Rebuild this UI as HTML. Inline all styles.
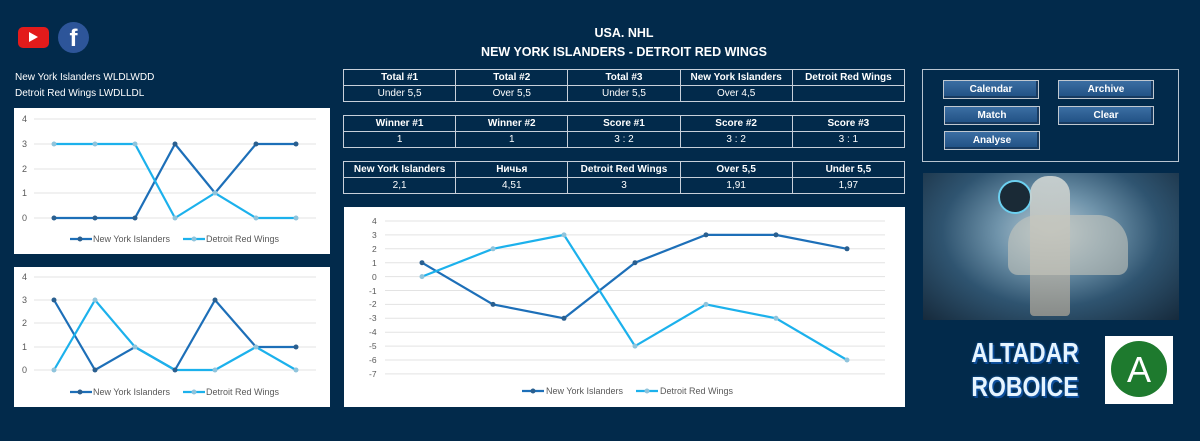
<!DOCTYPE html>
<html><head><meta charset="utf-8"><style>
html,body{margin:0;padding:0}
body{width:1200px;height:441px;background:#022a4b;position:relative;overflow:hidden;font-family:"Liberation Sans",sans-serif;color:#fff}
.a{position:absolute}
table{position:absolute;border-collapse:collapse;left:343px;width:562px;font-size:10px;table-layout:fixed}
td{border:1px solid #c8d0da;text-align:center;height:15px;padding:0;color:#fff}
tr:first-child td{font-weight:bold}
.btn{position:absolute;width:94px;height:17px;background:linear-gradient(#3b6ea3,#1f4f82);border:1px solid #c0c8d0;box-shadow:inset -2px -2px 0 #173a60;font-size:10px;font-weight:bold;text-align:center;line-height:18px}
</style></head><body>
<div class="a" style="left:18px;top:27px;width:31px;height:21px;background:#e31b1b;border-radius:5px"></div>
<div class="a" style="left:29px;top:32px;width:0;height:0;border-left:9px solid #fff;border-top:5px solid transparent;border-bottom:5px solid transparent"></div>
<div class="a" style="left:58px;top:22px;width:31px;height:31px;background:#2d5599;border-radius:50%;font-size:24px;font-weight:bold;text-align:center;line-height:34px">f</div>
<div class="a" style="left:15px;top:72px;font-size:10px">New York Islanders WLDLWDD</div>
<div class="a" style="left:15px;top:88px;font-size:10px">Detroit Red Wings LWDLLDL</div>
<div class="a" style="left:343px;top:24px;width:562px;text-align:center;font-size:12.5px;font-weight:bold;line-height:19px">USA. NHL<br>NEW YORK ISLANDERS - DETROIT RED WINGS</div>

<table style="top:69px"><tr><td>Total #1</td><td>Total #2</td><td>Total #3</td><td>New York Islanders</td><td>Detroit Red Wings</td></tr><tr><td>Under 5,5</td><td>Over 5,5</td><td>Under 5,5</td><td>Over 4,5</td><td></td></tr></table>
<table style="top:115px"><tr><td>Winner #1</td><td>Winner #2</td><td>Score #1</td><td>Score #2</td><td>Score #3</td></tr><tr><td>1</td><td>1</td><td>3 : 2</td><td>3 : 2</td><td>3 : 1</td></tr></table>
<table style="top:161px"><tr><td>New York Islanders</td><td>Ничья</td><td>Detroit Red Wings</td><td>Over 5,5</td><td>Under 5,5</td></tr><tr><td>2,1</td><td>4,51</td><td>3</td><td>1,91</td><td>1,97</td></tr></table>

<div class="a" style="left:922px;top:69px;width:255px;height:91px;border:1px solid #b8c4d0"></div>
<div class="btn" style="left:943px;top:80px">Calendar</div>
<div class="btn" style="left:1058px;top:80px">Archive</div>
<div class="btn" style="left:944px;top:106px">Match</div>
<div class="btn" style="left:1058px;top:106px">Clear</div>
<div class="btn" style="left:944px;top:131px">Analyse</div>

<div class="a" style="left:923px;top:173px;width:256px;height:147px;background:radial-gradient(ellipse at 50% 40%,#b9ccd6 0%,#6f93aa 30%,#2f5470 60%,#162a3c 100%)"></div>
<div class="a" style="left:998px;top:180px;width:30px;height:30px;border-radius:50%;background:#1a2a36;border:2px solid #6cd0f0"></div>
<div class="a" style="left:1030px;top:176px;width:40px;height:140px;background:linear-gradient(#d8dcd8,#9a9890);border-radius:18px 18px 4px 4px;opacity:.85"></div>
<div class="a" style="left:1008px;top:215px;width:120px;height:60px;background:#c7c6bc;border-radius:30px 30px 10px 10px;opacity:.6"></div>
<div class="a" style="left:945px;top:336px;width:160px;text-align:center;font-size:28px;font-weight:bold;line-height:34px;color:#e6f4ff;text-shadow:0 0 3px #1560b0,2px 2px 0 #0d4a94;transform:scaleX(0.82);transform-origin:50% 50%">ALTADAR<br>ROBOICE</div>
<div class="a" style="left:1105px;top:336px;width:68px;height:68px;background:#fff"></div>
<div class="a" style="left:1111px;top:341px;width:56px;height:56px;border-radius:50%;background:#1e7a2e;color:#fff;font-size:36px;text-align:center;line-height:58px">A</div>

<svg class="a" style="left:0;top:0" width="1200" height="441" font-family="Liberation Sans" font-size="9" fill="#595959">
<rect x="14" y="108" width="316" height="146" fill="#fff"/>
<g stroke="#e3e3e3"><line x1="34" x2="316" y1="119" y2="119"/><line x1="34" x2="316" y1="144" y2="144"/><line x1="34" x2="316" y1="169" y2="169"/><line x1="34" x2="316" y1="193" y2="193"/><line x1="34" x2="316" y1="218" y2="218"/></g>
<text x="22" y="122">4</text><text x="22" y="147">3</text><text x="22" y="172">2</text><text x="22" y="196">1</text><text x="22" y="221">0</text>
<polyline fill="none" stroke="#1d6fb8" stroke-width="2.2" points="54,218 95,218 135,218 175,144 215,193 256,144 296,144"/>
<polyline fill="none" stroke="#1cb1ec" stroke-width="2.2" points="54,144 95,144 135,144 175,218 215,193 256,218 296,218"/>
<g fill="#2a5f8f"><circle cx="54" cy="218" r="2.5"/><circle cx="95" cy="218" r="2.5"/><circle cx="135" cy="218" r="2.5"/><circle cx="175" cy="144" r="2.5"/><circle cx="256" cy="144" r="2.5"/><circle cx="296" cy="144" r="2.5"/></g>
<g fill="#8fc4dc"><circle cx="54" cy="144" r="2.5"/><circle cx="95" cy="144" r="2.5"/><circle cx="135" cy="144" r="2.5"/><circle cx="175" cy="218" r="2.5"/><circle cx="215" cy="193" r="2.5"/><circle cx="256" cy="218" r="2.5"/><circle cx="296" cy="218" r="2.5"/></g>
<line x1="70" x2="92" y1="239" y2="239" stroke="#1d6fb8" stroke-width="2.2"/><circle cx="80" cy="239" r="2.5" fill="#2a5f8f"/><text x="93" y="242">New York Islanders</text>
<line x1="183" x2="205" y1="239" y2="239" stroke="#1cb1ec" stroke-width="2.2"/><circle cx="194" cy="239" r="2.5" fill="#8fc4dc"/><text x="206" y="242">Detroit Red Wings</text>

<rect x="14" y="267" width="316" height="140" fill="#fff"/>
<g stroke="#e3e3e3"><line x1="34" x2="316" y1="277" y2="277"/><line x1="34" x2="316" y1="300" y2="300"/><line x1="34" x2="316" y1="323" y2="323"/><line x1="34" x2="316" y1="347" y2="347"/><line x1="34" x2="316" y1="370" y2="370"/></g>
<text x="22" y="280">4</text><text x="22" y="303">3</text><text x="22" y="326">2</text><text x="22" y="350">1</text><text x="22" y="373">0</text>
<polyline fill="none" stroke="#1d6fb8" stroke-width="2.2" points="54,300 95,370 135,347 175,370 215,300 256,347 296,347"/>
<polyline fill="none" stroke="#1cb1ec" stroke-width="2.2" points="54,370 95,300 135,347 175,370 215,370 256,347 296,370"/>
<g fill="#2a5f8f"><circle cx="54" cy="300" r="2.5"/><circle cx="95" cy="370" r="2.5"/><circle cx="175" cy="370" r="2.5"/><circle cx="215" cy="300" r="2.5"/><circle cx="296" cy="347" r="2.5"/></g>
<g fill="#8fc4dc"><circle cx="54" cy="370" r="2.5"/><circle cx="95" cy="300" r="2.5"/><circle cx="135" cy="347" r="2.5"/><circle cx="215" cy="370" r="2.5"/><circle cx="256" cy="347" r="2.5"/><circle cx="296" cy="370" r="2.5"/></g>
<line x1="70" x2="92" y1="392" y2="392" stroke="#1d6fb8" stroke-width="2.2"/><circle cx="80" cy="392" r="2.5" fill="#2a5f8f"/><text x="93" y="395">New York Islanders</text>
<line x1="183" x2="205" y1="392" y2="392" stroke="#1cb1ec" stroke-width="2.2"/><circle cx="194" cy="392" r="2.5" fill="#8fc4dc"/><text x="206" y="395">Detroit Red Wings</text>

<rect x="344" y="207" width="561" height="200" fill="#fff"/>
<g stroke="#e3e3e3">
<line x1="385" x2="885" y1="221" y2="221"/><line x1="385" x2="885" y1="234.9" y2="234.9"/><line x1="385" x2="885" y1="248.8" y2="248.8"/><line x1="385" x2="885" y1="262.7" y2="262.7"/><line x1="385" x2="885" y1="276.6" y2="276.6"/><line x1="385" x2="885" y1="290.5" y2="290.5"/><line x1="385" x2="885" y1="304.4" y2="304.4"/><line x1="385" x2="885" y1="318.3" y2="318.3"/><line x1="385" x2="885" y1="332.2" y2="332.2"/><line x1="385" x2="885" y1="346.1" y2="346.1"/><line x1="385" x2="885" y1="360" y2="360"/><line x1="385" x2="885" y1="373.9" y2="373.9"/></g>
<g font-size="8.5"><text x="372" y="224">4</text><text x="372" y="238">3</text><text x="372" y="252">2</text><text x="372" y="266">1</text><text x="372" y="280">0</text><text x="369" y="294">-1</text><text x="369" y="307">-2</text><text x="369" y="321">-3</text><text x="369" y="335">-4</text><text x="369" y="349">-5</text><text x="369" y="363">-6</text><text x="369" y="377">-7</text></g>
<polyline fill="none" stroke="#1d6fb8" stroke-width="2.2" points="422,262.7 493,304.4 564,318.3 635,262.7 706,234.9 776,234.9 847,248.8"/>
<polyline fill="none" stroke="#1cb1ec" stroke-width="2.2" points="422,276.6 493,248.8 564,234.9 635,346.1 706,304.4 776,318.3 847,360"/>
<g fill="#2a5f8f"><circle cx="422" cy="262.7" r="2.5"/><circle cx="493" cy="304.4" r="2.5"/><circle cx="564" cy="318.3" r="2.5"/><circle cx="635" cy="262.7" r="2.5"/><circle cx="706" cy="234.9" r="2.5"/><circle cx="776" cy="234.9" r="2.5"/><circle cx="847" cy="248.8" r="2.5"/></g>
<g fill="#8fc4dc"><circle cx="422" cy="276.6" r="2.5"/><circle cx="493" cy="248.8" r="2.5"/><circle cx="564" cy="234.9" r="2.5"/><circle cx="635" cy="346.1" r="2.5"/><circle cx="706" cy="304.4" r="2.5"/><circle cx="776" cy="318.3" r="2.5"/><circle cx="847" cy="360" r="2.5"/></g>
<line x1="522" x2="544" y1="391" y2="391" stroke="#1d6fb8" stroke-width="2.2"/><circle cx="533" cy="391" r="2.5" fill="#2a5f8f"/><text x="546" y="394">New York Islanders</text>
<line x1="636" x2="658" y1="391" y2="391" stroke="#1cb1ec" stroke-width="2.2"/><circle cx="647" cy="391" r="2.5" fill="#8fc4dc"/><text x="660" y="394">Detroit Red Wings</text>
</svg>
</body></html>
